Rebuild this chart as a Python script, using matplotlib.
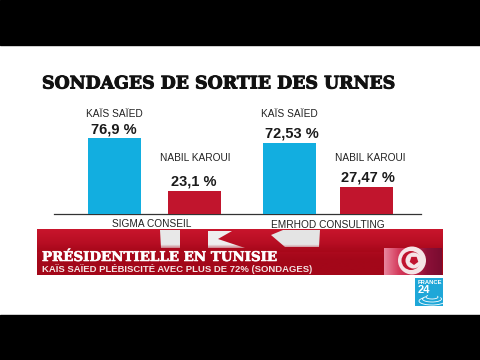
import matplotlib
matplotlib.use('Agg')
import matplotlib.pyplot as plt
import matplotlib.patheffects as pe
import numpy as np
from matplotlib.colors import LinearSegmentedColormap
from matplotlib.patches import Arc, Circle, Polygon, Rectangle, RegularPolygon

candidates = ['KAÏS SAÏED', 'NABIL KAROUI', 'KAÏS SAÏED', 'NABIL KAROUI']
values = [76.9, 23.1, 72.53, 27.47]
valueLabels = ['76,9 %', '23,1 %', '72,53 %', '27,47 %']
barPositions = [114.5, 194.5, 289.5, 366.5]
institutes = ['SIGMA CONSEIL', 'EMRHOD CONSULTING']
barColors = ['#12aee0', '#c1152d', '#12aee0', '#c1152d']

W, H = 480, 360
fig = plt.figure(figsize=(W / 100, H / 100), dpi=100, facecolor='white')

# overlay in pixel coords for the video frame
bg = fig.add_axes([0, 0, 1, 1])
bg.set_xlim(0, W)
bg.set_ylim(H, 0)
bg.axis('off')

# bar axes: baseline at y=214, about 0.985 px per percent
base = 214
ax = fig.add_axes([0, (H - base) / H, 1, 98.5 / H])
ax.set_xlim(0, W)
ax.set_ylim(0, 100)
ax.axis('off')
ax.patch.set_alpha(0)
ax.bar(barPositions, values, width=53, color=barColors)

bg.add_patch(Rectangle((0, 0), W, 45, color='black'))
bg.add_patch(Rectangle((0, 315), W, 45, color='black'))
bg.plot([54, 421], [base, base], color='#333333', lw=0.9)

bg.text(42, 84, 'SONDAGES DE SORTIE DES URNES', family='DejaVu Serif', weight='bold',
        fontsize=12.5, color='#111111', va='center', ha='left',
        path_effects=[pe.withStroke(linewidth=0.7, foreground='#111111')])

nameX = [114, 195.5, 289, 370]
nameY = [114, 158, 114, 158]
valueX = [113.5, 194, 292, 368]
valueY = [129, 182, 133, 178]
for i in range(4):
    bg.text(nameX[i], nameY[i], candidates[i], family='Liberation Sans', fontsize=7.3,
            color='#222222', ha='center', va='center')
    bg.text(valueX[i], valueY[i], valueLabels[i], family='Liberation Sans', weight='bold',
            fontsize=10.5, color='#1a1a1a', ha='center', va='center')
bg.text(152, 224, institutes[0], family='Liberation Sans', fontsize=7.3, color='#222222',
        ha='center', va='center')
bg.text(328, 225, institutes[1], family='Liberation Sans', fontsize=7.3, color='#222222',
        ha='center', va='center')

# red banner with flag folds
bannerCmap = LinearSegmentedColormap.from_list('banner', ['#c8152c', '#b50d22', '#a30719', '#a30719'])
bg.imshow(np.linspace(0, 1, 40).reshape(-1, 1), extent=(37, 443, 275.5, 230), cmap=bannerCmap,
          aspect='auto', zorder=1)
bg.add_patch(Polygon([(160, 230), (180, 230), (180, 248), (161, 248)], color='#e8e8e8', lw=0, zorder=2))
bg.add_patch(Polygon([(208, 231), (232, 231), (218, 239), (245, 248), (208, 248)], color='#eeeeee', lw=0, zorder=2))
bg.add_patch(Polygon([(271, 235), (283, 230), (320, 230), (319, 247), (285, 247)], color='#e4e4e4', lw=0, zorder=2))
bg.imshow(np.linspace(0, 1, 10).reshape(-1, 1), extent=(37, 443, 252, 244), cmap=LinearSegmentedColormap.from_list('f', [(0.66, 0.05, 0.12, 0), (0.66, 0.03, 0.1, 1)]),
          aspect='auto', zorder=3)
bg.set_xlim(0, W)
bg.set_ylim(H, 0)

bg.text(42, 257.5, 'PRÉSIDENTIELLE EN TUNISIE', family='DejaVu Serif', weight='bold',
        fontsize=9.65, color='white', va='center', ha='left', zorder=6,
        path_effects=[pe.withStroke(linewidth=0.4, foreground='white')])
bg.text(42, 269, 'KAÏS SAÏED PLÉBISCITÉ AVEC PLUS DE 72% (SONDAGES)', family='Liberation Sans',
        weight='bold', fontsize=6.82, color='#f4e4e4', va='center', ha='left', zorder=6)

# tunisian flag in the banner
flagCmap = LinearSegmentedColormap.from_list('flag', ['#e8849c', '#d43a5c', '#c42448', '#8c1038', '#7a0c30'])
bg.imshow(np.linspace(0, 1, 58).reshape(1, -1), extent=(384, 442, 275, 248), cmap=flagCmap,
          aspect='auto', zorder=4)
bg.set_xlim(0, W)
bg.set_ylim(H, 0)
bg.add_patch(Circle((412, 260.5), 14, color='#f5e4e6', lw=0, zorder=5))
bg.add_patch(Circle((411, 260.5), 9.5, color='#c0142f', lw=0, zorder=5))
bg.add_patch(Circle((413.5, 260.5), 8, color='#f5e4e6', lw=0, zorder=5))
bg.add_patch(RegularPolygon((414, 260.5), 5, radius=4.5, color='#c0142f', lw=0, zorder=5))

# france 24 logo
bg.add_patch(Rectangle((415, 278), 28, 28, color='#1ea7d8', lw=0))
bg.text(418, 283, 'FRANCE', family='Liberation Sans', weight='bold', fontsize=4.2,
        color='white', va='center', ha='left')
bg.text(418, 290, '24', family='Liberation Sans', weight='bold', fontsize=8,
        color='white', va='center', ha='left')
for w, h, cy in [(12, 4, 297), (19, 6, 299), (26, 8, 301)]:
    bg.add_patch(Arc((432, cy), w, h, theta1=-10, theta2=200, color='white', lw=0.6))

fig.savefig('out.png', dpi=100)
